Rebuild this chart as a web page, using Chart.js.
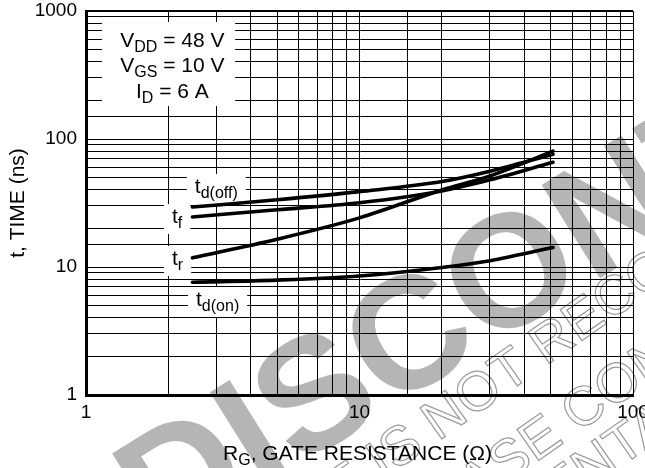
<!DOCTYPE html>
<html><head><meta charset="utf-8">
<script src="https://cdn.jsdelivr.net/npm/chart.js@4.4.1/dist/chart.umd.min.js"></script>
<style>html,body{margin:0;padding:0;background:#fff;overflow:hidden}</style>
</head><body>
<canvas id="c" width="645" height="468" style="display:block;width:645px;height:468px"></canvas>
<script>
// ---- data ----
const RG      = [2.45, 5, 10, 20, 30, 51];          // gate resistance, ohm
const TD_OFF  = [29.4, 33.5, 38.8, 46.5, 56, 76];   // ns
const T_F     = [24.6, 28.0, 31.8, 39.3, 48, 65.8];
const T_R     = [11.8, 16.5, 24.2, 40.0, 51.5, 80.5];
const TD_ON   = [7.6, 7.9, 8.5, 9.9, 11.2, 14.2];
const X_TICK_LABELS = [1, 10, 100];
const Y_TICK_LABELS = [1, 10, 100, 1000];
const X_RANGE = [1, 100];
const Y_RANGE = [1, 1000];

const FAM = "'Liberation Sans', Arial, Helvetica, sans-serif";
Chart.defaults.font.family = FAM;
Chart.defaults.color = '#000';

function pts(ys){ return RG.map((x,i)=>({x:x, y:ys[i]})); }
function ds(label, ys){
  return {label, data: pts(ys), borderColor:'#000', borderWidth:3.6, pointRadius:0,
          cubicInterpolationMode:'monotone', fill:false, borderCapStyle:'round'};
}

// rich text helper: parts = [[text, isSub], ...]
function drawRich(ctx, parts, x, y, align, size, subSize, subDy){
  const widths = parts.map(p=>{ ctx.font = (p[1]?subSize:size)+'px '+FAM; return ctx.measureText(p[0]).width; });
  const w = widths.reduce((a,b)=>a+b,0);
  let cx = align==='center' ? x - w/2 : x;
  ctx.textAlign='left'; ctx.textBaseline='alphabetic'; ctx.fillStyle='#000';
  parts.forEach((p,i)=>{ ctx.font=(p[1]?subSize:size)+'px '+FAM; ctx.fillText(p[0], cx, y+(p[1]?subDy:0)); cx+=widths[i]; });
  return w;
}
function richWidth(ctx, parts, size, subSize){
  return parts.reduce((a,p)=>{ ctx.font=(p[1]?subSize:size)+'px '+FAM; return a+ctx.measureText(p[0]).width; },0);
}

// annotations anchored in data space
const PARAM_BOX = {x0:1.144, x1:3.51, y0:181, y1:820};
const PARAM_LINES = [
  {x:2.07, y:523, parts:[['V',0],['DD',1],[' = 48 V',0]]},
  {x:2.07, y:334, parts:[['V',0],['GS',1],[' = 10 V',0]]},
  {x:2.07, y:209, parts:[['I',0],['D',1],[' = 6 A',0]]}
];
const CURVE_LABELS = [
  {x:2.50,  y:37.9,  parts:[['t',0],['d(off)',1]]},
  {x:2.063, y:22.07, parts:[['t',0],['f',1]]},
  {x:2.063, y:10.37, parts:[['t',0],['r',1]]},
  {x:2.525, y:4.96,  parts:[['t',0],['d(on)',1]]}
];

const annot = {
  id:'annot',
  beforeDraw(chart){
    const ctx = chart.ctx;
    ctx.save();
    ctx.fillStyle='#fff'; ctx.fillRect(0,0,chart.width,chart.height);
    // watermark
    ctx.fillStyle='#b5b5b5';
    ctx.font='bold 160px '+FAM;
    ctx.translate(138,515); ctx.rotate(-32*Math.PI/180);
    ctx.textBaseline='middle'; ctx.textAlign='left';
    ctx.fillText('DISCONTINUED',0,0);
    ctx.restore();
    // outlined note text
    ctx.save();
    ctx.strokeStyle='#9a9a9a'; ctx.lineWidth=1.2;
    ctx.font='55px '+FAM; ctx.textBaseline='alphabetic'; ctx.textAlign='left';
    const notes = [
      {txt:'THIS DEVICE IS NOT RECOMMENDED FOR NEW DESIGN.', pre:'THIS DEVICE ', ax:383, ay:480},
      {txt:'PLEASE CONTACT YOUR ON SEMICONDUCTOR', pre:'PLEA', ax:505, ay:484},
      {txt:'REPRESENTATIVE FOR INFORMATION', pre:'REPRESE', ax:588, ay:490}
    ];
    notes.forEach(n=>{
      ctx.save();
      ctx.translate(n.ax,n.ay); ctx.rotate(-35*Math.PI/180);
      ctx.strokeText(n.txt, -ctx.measureText(n.pre).width, 0);
      ctx.restore();
    });
    ctx.restore();
  },
  beforeDatasetsDraw(chart){
    const ctx = chart.ctx, xs = chart.scales.x, ys = chart.scales.y;
    ctx.save();
    ctx.fillStyle='#fff';
    const bx0 = xs.getPixelForValue(PARAM_BOX.x0), bx1 = xs.getPixelForValue(PARAM_BOX.x1);
    const by0 = ys.getPixelForValue(PARAM_BOX.y1), by1 = ys.getPixelForValue(PARAM_BOX.y0);
    ctx.fillRect(bx0,by0,bx1-bx0,by1-by0);
    CURVE_LABELS.forEach(l=>{
      const px = xs.getPixelForValue(l.x), py = ys.getPixelForValue(l.y);
      const w = richWidth(ctx,l.parts,21,16);
      ctx.fillStyle='#fff';
      ctx.fillRect(px-8, py-19, w+16, 30);
    });
    ctx.restore();
  },
  afterDatasetsDraw(chart){
    const ctx = chart.ctx, xs = chart.scales.x, ys = chart.scales.y, a = chart.chartArea;
    ctx.save();
    PARAM_LINES.forEach(l=>{
      drawRich(ctx,l.parts,xs.getPixelForValue(l.x),ys.getPixelForValue(l.y),'center',21,16,5);
    });
    CURVE_LABELS.forEach(l=>{
      drawRich(ctx,l.parts,xs.getPixelForValue(l.x),ys.getPixelForValue(l.y),'left',21,16,5);
    });
    // axis titles
    drawRich(ctx,[['R',0],['G',1],[', GATE RESISTANCE (Ω)',0]],(a.left+a.right)/2+(-2),460,'center',21,16,5);
    ctx.save();
    ctx.translate(24,(a.top+a.bottom)/2); ctx.rotate(-Math.PI/2);
    ctx.font='21px '+FAM; ctx.textAlign='center'; ctx.textBaseline='alphabetic'; ctx.fillStyle='#000';
    ctx.fillText('t, TIME (ns)',0,0);
    ctx.restore();
    ctx.restore();
  }
};

function isLabel(v, list){ return list.some(t=>Math.abs(t-v)<1e-9); }

new Chart(document.getElementById('c'), {
  type:'line',
  data:{ datasets:[ ds('td(off)',TD_OFF), ds('tf',T_F), ds('tr',T_R), ds('td(on)',TD_ON) ] },
  options:{
    responsive:false, animation:false, devicePixelRatio:1,
    layout:{padding:{left:0,right:12,top:11,bottom:0}},
    plugins:{legend:{display:false}, tooltip:{enabled:false}},
    scales:{
      x:{ type:'logarithmic', min:X_RANGE[0], max:X_RANGE[1], position:'bottom',
          grid:{color:'#000', lineWidth:1, drawTicks:false},
          border:{display:true, color:'#000', width:3},
          ticks:{ autoSkip:false, maxRotation:0, padding:6, font:{size:19}, color:'#000',
                  callback:(v)=> isLabel(v,X_TICK_LABELS) ? String(v) : '' },
          afterFit(s){ s.height = 73; s.paddingLeft=0; s.paddingRight=0; }
      },
      y:{ type:'logarithmic', min:Y_RANGE[0], max:Y_RANGE[1],
          grid:{color:'#000', lineWidth:(c)=> (c.tick && c.tick.value===Y_RANGE[1]) ? 2 : 1, drawTicks:false},
          border:{display:true, color:'#000', width:3},
          ticks:{ autoSkip:false, padding:9, font:{size:19}, color:'#000',
                  callback:(v)=> isLabel(v,Y_TICK_LABELS) ? String(v) : '' },
          afterFit(s){ s.width = 86; s.paddingTop=0; s.paddingBottom=0; }
      }
    }
  },
  plugins:[annot]
});
</script>
</body></html>
